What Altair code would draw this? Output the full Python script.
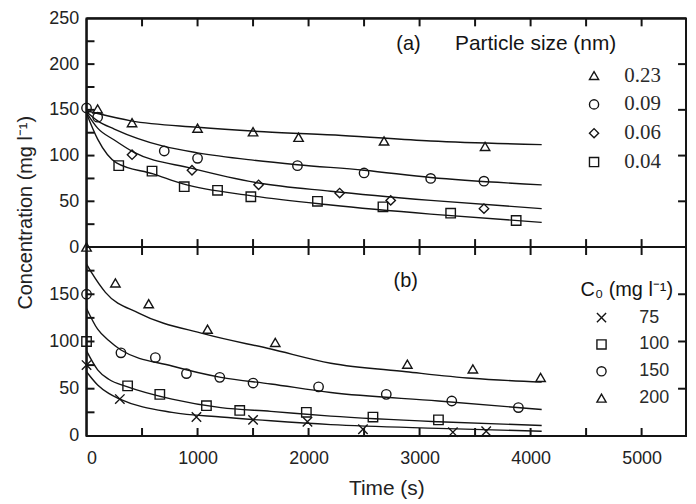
import altair as alt
import pandas as pd

# ---------------- data: panel (a) particle size ----------------
a_series = ["0.23", "0.09", "0.06", "0.04"]
a_shapes = ["triangle-up", "circle", "diamond", "square"]

a_pts_t_023 = [100, 410, 1000, 1500, 1910, 2680, 3590]
a_pts_c_023 = [151, 136, 130, 126, 120, 116, 110]
a_pts_t_009 = [0, 100, 700, 1000, 1900, 2500, 3100, 3580]
a_pts_c_009 = [152, 142, 105, 97, 89, 81, 75, 72]
a_pts_t_006 = [410, 950, 1550, 2280, 2740, 3580]
a_pts_c_006 = [101, 84, 68, 59, 51, 42]
a_pts_t_004 = [290, 590, 880, 1180, 1480, 2080, 2670, 3280, 3870]
a_pts_c_004 = [89, 83, 66, 62, 55, 50, 44, 37, 29]

a_fit_t_023 = [0, 100, 400, 1000, 1600, 2300, 3100, 4100]
a_fit_c_023 = [149, 146, 138, 131, 126, 122, 116, 112]
a_fit_t_009 = [0, 100, 250, 700, 1000, 1500, 1900, 2500, 3100, 4100]
a_fit_c_009 = [148, 138, 129, 110, 103, 95, 90, 84, 76, 68]
a_fit_t_006 = [0, 100, 250, 420, 950, 1550, 2200, 3100, 4100]
a_fit_c_006 = [147, 130, 117, 104, 86, 70, 61, 51, 42]
a_fit_t_004 = [0, 100, 270, 600, 870, 1490, 2200, 3100, 4100]
a_fit_c_004 = [146, 118, 92, 80, 69, 56, 46, 36, 27]

# ---------------- data: panel (b) initial concentration ----------------
b_series = ["75", "100", "150", "200"]
b_shapes = ["M-1,-1L1,1M1,-1L-1,1", "square", "circle", "triangle-up"]

b_pts_t_75 = [0, 300, 990, 1500, 1990, 2490, 3300, 3600]
b_pts_c_75 = [75, 39, 20, 17, 15, 7, 4, 5]
b_pts_t_100 = [0, 370, 660, 1080, 1380, 1980, 2580, 3170]
b_pts_c_100 = [100, 53, 44, 32, 27, 25, 20, 17]
b_pts_t_150 = [0, 310, 620, 900, 1200, 1500, 2090, 2700, 3290, 3890]
b_pts_c_150 = [150, 88, 83, 66, 62, 56, 52, 44, 37, 30]
b_pts_t_200 = [0, 260, 560, 1090, 1700, 2890, 3480, 4090]
b_pts_c_200 = [200, 162, 140, 113, 99, 76, 71, 62]

b_fit_t_75 = [0, 100, 200, 300, 770, 1210, 1660, 2200, 3170, 4100]
b_fit_c_75 = [68, 54, 45, 39, 25, 20, 16, 12, 8, 5]
b_fit_t_100 = [0, 100, 200, 370, 770, 1210, 1660, 2200, 3170, 4100]
b_fit_c_100 = [90, 70, 60, 52, 39, 30, 26, 21, 15, 11]
b_fit_t_150 = [0, 100, 200, 310, 770, 1210, 1660, 2200, 3170, 4100]
b_fit_c_150 = [135, 113, 101, 91, 74, 62, 55, 46, 37, 28]
b_fit_t_200 = [0, 50, 170, 470, 1060, 1660, 2200, 2880, 3470, 4100]
b_fit_c_200 = [182, 172, 152, 130, 108, 92, 77, 68, 61, 57]

# ---------------- axes / annotations ----------------
x_labels = [0, 1000, 2000, 3000, 4000, 5000]
x_minor = [500, 1000, 1500, 2000, 2500, 3000, 3500, 4000, 4500, 5000]
a_y_max = 250
b_y_max = 200          # panel (a) sits on top of panel (b): its 0 is at b_y_max
y_label_vals = [0, 50, 100, 150, 200, 250, 300, 350, 400, 450]
y_minor = [25, 50, 75, 100, 125, 150, 175, 225, 250, 275, 300, 325, 350, 375, 400, 425]
y_right = [50, 100, 150, 250, 300, 350, 400]

tags = ["(a)", "(b)"]
tags_t = [2900, 2875]
tags_c = [222, 164]
tags_panel = ["a", "b"]
heads = ["Particle size (nm)", "C\u2080 (mg l\u207b\u00b9)"]
heads_t = [3320, 4450]
heads_c = [222, 155]
heads_panel = ["a", "b"]
heads_size = [21, 20]

X_DOMAIN = [0, 5400]
W = 603
H_A = 230
H_B = 190
H = H_A + H_B
TICK_PX = 8

FONT = "Liberation Sans"
INK = "#141414"

# tick lengths expressed in data units of each scale segment
tx = TICK_PX * (X_DOMAIN[1] - X_DOMAIN[0]) / W
ty_a = TICK_PX * a_y_max / H_A
ty_b = TICK_PX * b_y_max / H_B
y_top = b_y_max + a_y_max


def long(ts, cs, names, shift):
    rows = []
    for t_list, c_list, n in zip(ts, cs, names):
        for t, c in zip(t_list, c_list):
            rows.append({"t": t, "c": c, "y": c + shift, "s": n})
    return pd.DataFrame(rows)


a_pts = long([a_pts_t_023, a_pts_t_009, a_pts_t_006, a_pts_t_004],
             [a_pts_c_023, a_pts_c_009, a_pts_c_006, a_pts_c_004], a_series, b_y_max)
a_fit = long([a_fit_t_023, a_fit_t_009, a_fit_t_006, a_fit_t_004],
             [a_fit_c_023, a_fit_c_009, a_fit_c_006, a_fit_c_004], a_series, b_y_max)
b_pts = long([b_pts_t_75, b_pts_t_100, b_pts_t_150, b_pts_t_200],
             [b_pts_c_75, b_pts_c_100, b_pts_c_150, b_pts_c_200], b_series, 0)
b_fit = long([b_fit_t_75, b_fit_t_100, b_fit_t_150, b_fit_t_200],
             [b_fit_c_75, b_fit_c_100, b_fit_c_150, b_fit_c_200], b_series, 0)

shift_of = {"a": b_y_max, "b": 0}
tag_df = pd.DataFrame({"t": tags_t, "y": [c + shift_of[p] for c, p in zip(tags_c, tags_panel)],
                       "txt": tags})
head_df = pd.DataFrame({"t": heads_t, "y": [c + shift_of[p] for c, p in zip(heads_c, heads_panel)],
                        "txt": heads, "fs": heads_size})

# tick decorations (positions are the axis tick values)
xt_rows = []
for v in x_minor:
    xt_rows.append({"t": v, "ya": y_top, "yb": y_top - ty_a})             # top edge
    xt_rows.append({"t": v, "ya": 0, "yb": ty_b})                         # bottom edge
    xt_rows.append({"t": v, "ya": b_y_max - ty_b, "yb": b_y_max + ty_a})  # divider
xt_df = pd.DataFrame(xt_rows)
yt_rows = [{"y": v, "xa": 0, "xb": tx} for v in y_minor] + \
          [{"y": v, "xa": X_DOMAIN[1] - tx, "xb": X_DOMAIN[1]} for v in y_right]
yt_df = pd.DataFrame(yt_rows)
edge_df = pd.DataFrame({"t": [X_DOMAIN[0]], "y": [y_top], "m": [b_y_max]})

xs = alt.Scale(domain=X_DOMAIN, nice=False, zero=False)
ys = alt.Scale(domain=[0, b_y_max, y_top], range=[H, H_A, 0],
               nice=False, zero=False)

lines_a = alt.Chart(a_fit).mark_line(
    color=INK, strokeWidth=1.4, interpolate="monotone"
).encode(
    x=alt.X("t:Q", scale=xs, axis=alt.Axis(
        orient="bottom", domain=False, ticks=False, tickSize=0, values=x_labels,
        labelPadding=14, labelFontSize=18, format="d",
        title="Time (s)", titlePadding=10, titleFontSize=21)),
    y=alt.Y("y:Q", scale=ys, axis=alt.Axis(
        orient="left", domain=False, ticks=False, tickSize=0, values=y_label_vals,
        labelExpr=f"datum.value >= {b_y_max} ? datum.value - {b_y_max} : datum.value",
        labelPadding=8, labelFontSize=18,
        title="Concentration (mg l\u207b\u00b9)", titleX=-61, titleY=195,
        titleAngle=270, titleAlign="center", titleBaseline="middle",
        titleFontSize=20)),
    detail="s:N",
)

lines_b = alt.Chart(b_fit).mark_line(
    color=INK, strokeWidth=1.4, interpolate="monotone"
).encode(
    x=alt.X("t:Q", scale=xs, axis=None),
    y=alt.Y("y:Q", scale=ys, axis=None),
    detail="s:N",
)

leg_common = dict(orient="none", title=None, padding=0, labelColor="#2a2a2a",
                  symbolSize=85, symbolStrokeWidth=1.4, symbolStrokeColor=INK,
                  symbolFillColor="transparent")

points_a = alt.Chart(a_pts).mark_point(
    filled=False, color=INK, strokeWidth=1.4, size=90, opacity=1
).encode(
    x=alt.X("t:Q", scale=xs, axis=None),
    y=alt.Y("y:Q", scale=ys, axis=None),
    shape=alt.Shape("s:N", scale=alt.Scale(domain=a_series, range=a_shapes),
                    legend=alt.Legend(legendX=500, legendY=47,
                                      labelFont="Liberation Serif", labelFontSize=21,
                                      labelOffset=20, rowPadding=7, **leg_common)),
)

points_b = alt.Chart(b_pts).mark_point(
    filled=False, color=INK, strokeWidth=1.4, size=90, opacity=1
).encode(
    x=alt.X("t:Q", scale=xs, axis=None),
    y=alt.Y("y:Q", scale=ys, axis=None),
    shape=alt.Shape("s:N", scale=alt.Scale(domain=b_series, range=b_shapes),
                    legend=alt.Legend(legendX=509, legendY=292,
                                      labelFont=FONT, labelFontSize=18,
                                      labelOffset=29, rowPadding=9, **leg_common)),
)

left_edge = alt.Chart(edge_df).mark_rule(color=INK, strokeWidth=2.2).encode(
    x=alt.X("t:Q", scale=xs, axis=None))
top_edge = alt.Chart(edge_df).mark_rule(color=INK, strokeWidth=2.2).encode(
    y=alt.Y("y:Q", scale=ys, axis=None))
divider = alt.Chart(edge_df).mark_rule(color=INK, strokeWidth=2).encode(
    y=alt.Y("m:Q", scale=ys, axis=None))

x_ticks = alt.Chart(xt_df).mark_rule(color=INK, strokeWidth=2).encode(
    x=alt.X("t:Q", scale=xs, axis=None),
    y=alt.Y("ya:Q", scale=ys, axis=None),
    y2="yb:Q",
)
y_ticks = alt.Chart(yt_df).mark_rule(color=INK, strokeWidth=2).encode(
    x=alt.X("xa:Q", scale=xs, axis=None),
    x2="xb:Q",
    y=alt.Y("y:Q", scale=ys, axis=None),
)

tag_layer = alt.Chart(tag_df).mark_text(
    font=FONT, fontSize=20, color=INK, align="center", baseline="middle"
).encode(
    x=alt.X("t:Q", scale=xs, axis=None),
    y=alt.Y("y:Q", scale=ys, axis=None),
    text="txt:N",
)

head_layer = alt.Chart(head_df).mark_text(
    font=FONT, color=INK, align="left", baseline="middle"
).encode(
    x=alt.X("t:Q", scale=xs, axis=None),
    y=alt.Y("y:Q", scale=ys, axis=None),
    size=alt.Size("fs:Q", scale=None, legend=None),
    text="txt:N",
)

chart = alt.layer(
    lines_a, lines_b, points_a, points_b, left_edge, top_edge, divider,
    x_ticks, y_ticks, tag_layer, head_layer
).resolve_axis(
    x="independent", y="independent"
).resolve_scale(
    shape="independent"
).properties(
    width=W, height=H,
    padding={"left": 8, "top": 0, "right": 0, "bottom": 0},
    background="white",
).configure_view(
    stroke=INK, strokeWidth=2
).configure_axis(
    grid=False, labelFont=FONT, labelColor="#222", titleFont=FONT,
    titleColor="#222", titleFontWeight="normal"
)

chart.save("out.html", embed_options={"renderer": "svg", "actions": False})
